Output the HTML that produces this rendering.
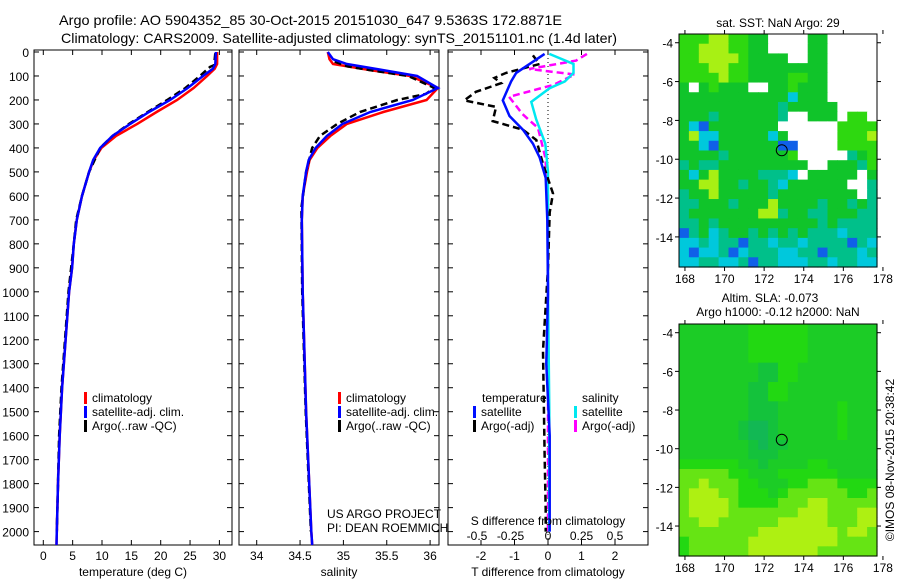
<!DOCTYPE html>
<html><head><meta charset="utf-8"><style>
body{margin:0;background:#fff;}
svg{display:block;font-family:"Liberation Sans",sans-serif;}
text{font-size:12px;fill:#000;}
</style></head><body>
<svg id="chart" width="900" height="580" viewBox="0 0 900 580" xmlns="http://www.w3.org/2000/svg">
<text x="59" y="25" textLength="503" lengthAdjust="spacingAndGlyphs" style="font-size:14px">Argo profile: AO 5904352_85 30-Oct-2015 20151030_647 9.5363S 172.8871E</text>
<text x="61" y="43" textLength="556" lengthAdjust="spacingAndGlyphs" style="font-size:14px">Climatology: CARS2009. Satellite-adjusted climatology: synTS_20151101.nc (1.4d later)</text>
<g id="g"></g>
</svg>
<script>
// ---- data ----
const tDepth = [0,50,70,100,150,200,250,300,350,400,450,500,600,700,800,900,1000,1200,1400,1600,1800,2000,2056];
const tClim  = [29.6,29.6,29.2,27.9,25.6,22.8,19.3,16.0,12.4,9.9,8.6,7.8,6.6,5.7,5.2,4.9,4.4,3.8,3.2,2.8,2.5,2.3,2.25];
const tSat   = [29.4,29.3,28.9,27.2,24.6,21.6,18.0,14.8,11.8,9.7,8.5,7.8,6.6,5.7,5.2,4.9,4.4,3.8,3.2,2.8,2.5,2.3,2.25];
const aDepth = [5,55,62,100,150,200,250,300,350,400,500,600,700,800,1000,1200,1400,1600,1800,2000];
const tArgo  = [29.3,29.1,28.4,26.7,24.2,21.1,17.8,14.6,11.8,9.7,7.8,6.6,5.6,5.2,4.3,3.7,3.1,2.7,2.5,2.3];
const sDepth = [0,30,50,75,100,150,200,250,300,350,400,450,500,600,700,1000,1500,2000,2056];
const sClim  = [34.82,34.84,34.88,35.3,35.77,36.09,35.96,35.46,35.04,34.85,34.70,34.61,34.58,34.53,34.52,34.53,34.57,34.63,34.64];
const sSat   = [34.82,34.88,35.04,35.45,35.85,36.09,35.80,35.31,34.99,34.81,34.68,34.60,34.57,34.53,34.52,34.53,34.57,34.63,34.64];
const saDepth= [40,60,75,100,150,175,200,250,300,350,400,500,650,1000,1500,2000];
const sArgo  = [34.9,35.05,35.3,35.75,36.05,35.95,35.62,35.19,34.93,34.73,34.64,34.57,34.515,34.525,34.565,34.625];
const dtDepth= [8,87,123,202,267,324,382,439,525,700,1000,1300,1600,1900,2000];
const dtSat  = [-0.1,-0.95,-1.1,-1.35,-1.15,-0.75,-0.45,-0.25,-0.07,-0.02,0,-0.05,0.05,0.05,0.05];
const daDepth= [14,50,87,108,130,166,202,229,288,324,367,467,590,669,900,1245,1676,1910,2000];
const dtArgo = [-0.45,-0.25,-1.25,-1.6,-1.4,-2.15,-2.5,-1.55,-1.65,-0.75,-0.35,-0.15,0.15,0.05,0,-0.15,-0.1,-0.07,-0.07];
const dsDepth= [8,50,87,123,151,208,281,382,500,1000,1500,2000];
const dsSat  = [0.01,0.19,0.19,0.125,0.012,-0.125,-0.088,-0.02,0,0,0.01,0.01];
const dsaDepth=[8,36,71,94,137,187,259,317,439,600,1000,1500,2000];
const dsArgo = [0.29,0.21,-0.14,0.2,0.04,-0.29,-0.19,-0.075,-0.02,0,0,0,0];
const depthTicks=[0,100,200,300,400,500,600,700,800,900,1000,1100,1200,1300,1400,1500,1600,1700,1800,1900,2000];
const tTicks=[0,5,10,15,20,25,30];
const sTicks=[34,34.5,35,35.5,36];
const dTTicks=[-2,-1,0,1,2];
const dSTicks=[-0.5,-0.25,0,0.25,0.5];
const lonTicks=[168,170,172,174,176,178];
const latTicks=[-4,-6,-8,-10,-12,-14];
const floatLon=172.89, floatLat=-9.54;
const sstGrid=[
"GGGyyGGggwwwwggwwwww","GGyyyGGggwwwwggwwwww","GGyyyyGggggwwggwwwww","GGGyyGGggggggggwwwww",
"GGGGyGGggggGGggwwwww","gwgGgggwwggGgggwwwww","gggggggggggcgggwwwww","ggggggggggtgggggwwww",
"gggtggggggtwwgggwGGw","gcbgggggggwwwwwwGGGG","gyccgggggcgwwwwwGGGy","ggcbggggggbbwwwwGGGG",
"ggggtggggggGwwwwwtgG","tgttgggggggggwwgggtG","gcgyggggtttcwgggggwg","ggyyggtggtcggggggwwt",
"tggygggggtggggggggwt","ttgggtgggyggggtggtgt","tgggggggyytggttgggtt","ttgtggggggggggtgtttt",
"btgctggtgtgtgtttcttt","cctcttbttcttcttttbtc","cbcctbctttccttbtttct","ccttcctbttcccttcttcc"];
const slaGrid=[
"gggggggGGGGGGggggggg","gggggggGGGGGGggggggg","gggggggGGGGGGggggggg","gggggggGGGGGGggggggg",
"ggggggggddGGgggggggg","ggggggggddGGgggggggg","gggggggddGGggggggggg","gggggggddGGggggggggg",
"gggggggdddggggggGggg","gggggggdddggggggGggg","ggggggdttdggggggGggg","ggggggdttdggggggGggg",
"gggggggdtddggggggggg","gggggggdddgggggggggg","GGGGGGggdggggGGggggg","lllllGGgggGGGGGGgggg",
"llylllGGgggGGlllGGGG","lyyyllGGGgGllllllGGl","lyyyylGGGGlllyylllll","lyyyylllllllyyylllyy",
"llyyllllllyyyyylllyy","llllllllyyyyyyyylyyl","Gllllllyyyyyyyyyllll","Gllllllyyyyyyyllllll"];
const sstCol={G:"#2ed810",g:"#10c42a",y:"#a8f014",t:"#00c08a",c:"#00c8dc",b:"#1060e8",w:"#ffffff"};
const slaCol={G:"#22d812",g:"#1ccc26",d:"#14c23c",t:"#12b854",l:"#66e414",y:"#aef012"};

// ---- helpers ----
const NS="http://www.w3.org/2000/svg";
const root=document.getElementById('g');
function mk(tag,attrs,parent){const e=document.createElementNS(NS,tag);for(const k in attrs)e.setAttribute(k,attrs[k]);(parent||root).appendChild(e);return e;}
const TOP=50,BOT=545;
const yD=d=>52+d*0.2398;
const xT=t=>43.3+5.87*t;
const xS=s=>256.7+86.7*(s-34);
const xDT=t=>548+33.5*t;
const xDS=s=>548+134*s;
const panels=[[34,232],[239,439],[448,648]];

function line(xs,ds,fx,color,dash,name){
  const pts=xs.map((v,i)=>fx(v).toFixed(1)+","+yD(ds[i]).toFixed(1)).join(" ");
  const p=mk('polyline',{points:pts,fill:"none",stroke:color,"stroke-width":2.5});
  if(dash)p.setAttribute('stroke-dasharray','7,4');
  
  
}

panels.forEach((p,i)=>{
  const r=mk('rect',{x:p[0],y:TOP,width:p[1]-p[0],height:BOT-TOP,fill:"#fff",stroke:"#000","stroke-width":1});
  
  
  depthTicks.forEach(d=>{
    mk('line',{x1:p[0],x2:p[0]+5,y1:yD(d),y2:yD(d),stroke:"#000"});
    mk('line',{x1:p[1]-5,x2:p[1],y1:yD(d),y2:yD(d),stroke:"#000"});
  });
});
depthTicks.forEach(d=>{
  const t=mk('text',{x:29,y:yD(d)+5,"text-anchor":"end"});t.textContent=d;
  
  
});
function xticks(ticks,fx,p,labY){
  ticks.forEach(v=>{const x=fx(v);
    mk('line',{x1:x,x2:x,y1:TOP,y2:TOP+5,stroke:"#000"});
    mk('line',{x1:x,x2:x,y1:BOT-5,y2:BOT,stroke:"#000"});
    if(labY){const t=mk('text',{x:x,y:labY,"text-anchor":"middle"});t.textContent=v;
      
      }
  });
}
xticks(tTicks,xT,panels[0],560);
xticks(sTicks,xS,panels[1],560);
xticks(dTTicks,xDT,panels[2],560);
dSTicks.forEach(v=>{const t=mk('text',{x:xDS(v)-(v<0?4:0),y:540,"text-anchor":"middle"});t.textContent=v;
  
  });

mk('line',{x1:xDT(0),x2:xDT(0),y1:TOP,y2:BOT,stroke:"#000","stroke-dasharray":"1,3"});

line(tClim,tDepth,xT,"#ff0000",false,"temp-climatology-line");
line(tArgo,aDepth,xT,"#000",true,"temp-argo-line");
line(tSat,tDepth,xT,"#0000ff",false,"temp-satellite-line");
line(sClim,sDepth,xS,"#ff0000",false,"sal-climatology-line");
line(sArgo,saDepth,xS,"#000",true,"sal-argo-line");
line(sSat,sDepth,xS,"#0000ff",false,"sal-satellite-line");
line(dsArgo,dsaDepth,xDS,"#ff00ff",true,"sal-diff-argo-line");
line(dsSat,dsDepth,xDS,"#00e8f0",false,"sal-diff-satellite-line");
line(dtArgo,daDepth,xDT,"#000",true,"temp-diff-argo-line");
line(dtSat,dtDepth,xDT,"#0010ff",false,"temp-diff-satellite-line");

function leg(x,y,color,label,name){
  mk('rect',{x:x,y:y-10,width:3,height:12,fill:color});
  const t=mk('text',{x:x+8,y:y});t.textContent=label;
  
  
}
[84,338].forEach(x=>{
  leg(x,402,"#ff0000","climatology","legend-climatology");
  leg(x,416,"#0000ff","satellite-adj. clim.","legend-satellite-adj");
  leg(x,430,"#000","Argo(..raw -QC)","legend-argo");
});
function txt(x,y,s,name,anchor){const t=mk('text',{x:x,y:y});if(anchor)t.setAttribute('text-anchor',anchor);t.textContent=s;
  
  return t;}
txt(482,402,"temperature","legend-temperature-header");
leg(473,416,"#0010ff","satellite","legend-temp-satellite");
leg(473,430,"#000","Argo(-adj)","legend-temp-argo");
txt(582,402,"salinity","legend-salinity-header");
leg(574,416,"#00e8f0","satellite","legend-sal-satellite");
leg(574,430,"#ff00ff","Argo(-adj)","legend-sal-argo");
txt(327,518,"US ARGO PROJECT","project-label");
txt(327,532,"PI: DEAN ROEMMICH","pi-label");
txt(548,525,"S difference from climatology","s-diff-axis-title","middle");
txt(133,576,"temperature (deg C)","temp-axis-title","middle");
txt(339,576,"salinity","salinity-axis-title","middle");
txt(548,576,"T difference from climatology","t-diff-axis-title","middle");

function map(grid,cols,top,bot,name){
  const L=679,R=877,lon0=167.7,lat0=-3.55,lat1=-15.55;
  const xL=lon=>L+(lon-lon0)*(R-L)/10.0;
  const yL=lat=>top+(lat0-lat)*(bot-top)/(lat0-lat1);
  const cw=(R-L)/20,ch=(bot-top)/24;
  const g=mk('g',{});
  
  
  grid.forEach((row,r)=>{for(let c=0;c<20;c++){
    mk('rect',{x:(L+c*cw).toFixed(2),y:(top+r*ch).toFixed(2),width:(cw+0.6).toFixed(2),height:(ch+0.6).toFixed(2),fill:cols[row[c]]||"#fff"},g);
  }});
  mk('rect',{x:L,y:top,width:R-L,height:bot-top,fill:"none",stroke:"#000"});
  lonTicks.forEach(v=>{const x=xL(v);mk('line',{x1:x,x2:x,y1:top-4,y2:top,stroke:"#000"});mk('line',{x1:x,x2:x,y1:bot,y2:bot+4,stroke:"#000"});
    txt(x,bot+16,v,"map-lon-tick","middle");});
  latTicks.forEach(v=>{const y=yL(v);mk('line',{x1:L-4,x2:L,y1:y,y2:y,stroke:"#000"});mk('line',{x1:R,x2:R+4,y1:y,y2:y,stroke:"#000"});
    txt(L-6,y+5,v,"map-lat-tick","end");});
  const c=mk('circle',{cx:xL(floatLon),cy:yL(floatLat),r:5.5,fill:"none",stroke:"#000","stroke-width":1});
  
  
}
map(sstGrid,sstCol,34,267,"sst-map");
map(slaGrid,slaCol,324,556,"sla-map");
txt(778,27,"sat. SST: NaN Argo: 29","sst-map-title","middle");
txt(770,302,"Altim. SLA: -0.073","sla-map-title","middle");
txt(778,316,"Argo h1000: -0.12 h2000: NaN","sla-map-subtitle","middle");
const cr=txt(0,0,"©IMOS 08-Nov-2015 20:38:42","imos-credit","middle");
cr.setAttribute('transform','translate(894,460) rotate(-90)');
</script>
</body></html>
